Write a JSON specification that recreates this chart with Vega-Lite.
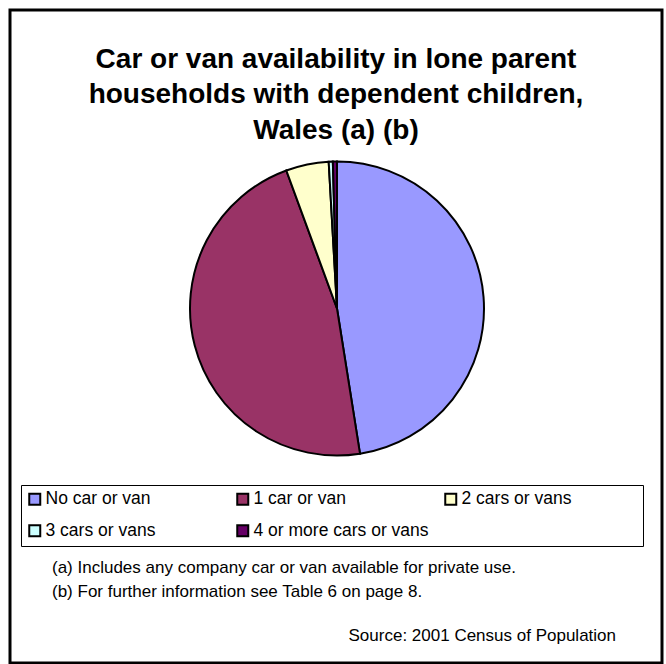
{
  "$schema": "https://vega.github.io/schema/vega-lite/v6.json",
  "width": 652,
  "height": 653,
  "autosize": "none",
  "padding": {"left": 10, "top": 10, "right": 4, "bottom": 1},
  "background": "white",
  "config": {
    "view": {"stroke": "#000", "strokeWidth": 3},
    "font": "Liberation Sans"
  },
  "title": {
    "text": ["Car or van availability in lone parent", "households with dependent children,", "Wales (a) (b)"],
    "font": "Liberation Sans",
    "fontSize": 28,
    "fontWeight": "bold",
    "lineHeight": 35.5,
    "anchor": "middle",
    "color": "#000",
    "offset": -136
  },
  "layer": [
    {
      "data": {"values": [{"frame": "border"}]},
      "mark": {"type": "rect", "x": 0, "y": 0, "x2": {"expr": "width"}, "y2": {"expr": "height"}, "fill": null, "stroke": "#000", "strokeWidth": 3},
      "encoding": {}
    },
    {
      "data": {
        "values": [
          {"k": 1, "cat": "No car or van", "pct": 47.5},
          {"k": 2, "cat": "1 car or van", "pct": 46.9},
          {"k": 3, "cat": "2 cars or vans", "pct": 4.7},
          {"k": 4, "cat": "3 cars or vans", "pct": 0.45},
          {"k": 5, "cat": "4 or more cars or vans", "pct": 0.45}
        ]
      },
      "mark": {"type": "arc", "x": 327, "y": 298.5, "outerRadius": 147, "stroke": "#000", "strokeWidth": 2},
      "encoding": {
        "theta": {"field": "pct", "type": "quantitative", "stack": true},
        "order": {"field": "k", "type": "quantitative"},
        "color": {
          "field": "cat",
          "type": "nominal",
          "sort": null,
          "scale": {
            "domain": ["No car or van", "1 car or van", "2 cars or vans", "3 cars or vans", "4 or more cars or vans"],
            "range": ["#9999FF", "#993366", "#FFFFCC", "#CCFFFF", "#660066"]
          },
          "legend": {
            "title": " ",
            "titleOrient": "right",
            "titlePadding": 67,
            "titleFontSize": 10,
            "orient": "none",
            "legendX": 11,
            "legendY": 475,
            "direction": "horizontal",
            "columns": 3,
            "gridAlign": "all",
            "columnPadding": 12,
            "rowPadding": 12,
            "padding": 5,
            "strokeColor": "#000",
            "fillColor": "#fff",
            "symbolType": "square",
            "symbolSize": 121,
            "symbolStrokeColor": "#000",
            "symbolStrokeWidth": 2,
            "symbolOpacity": 1,
            "labelFont": "Liberation Sans",
            "labelFontSize": 17.5,
            "labelColor": "#000",
            "labelOffset": 2,
            "labelLimit": 400
          }
        }
      }
    },
    {
      "data": {"values": [{"note": "(a) Includes any company car or van available for private use."}]},
      "mark": {"type": "text", "x": 42, "y": 558, "align": "left", "baseline": "middle", "fontSize": 17, "font": "Liberation Sans", "color": "#000"},
      "encoding": {"text": {"field": "note"}}
    },
    {
      "data": {"values": [{"note": "(b) For further information see Table 6 on page 8."}]},
      "mark": {"type": "text", "x": 42, "y": 582, "align": "left", "baseline": "middle", "fontSize": 17, "font": "Liberation Sans", "color": "#000"},
      "encoding": {"text": {"field": "note"}}
    },
    {
      "data": {"values": [{"note": "Source: 2001 Census of Population"}]},
      "mark": {"type": "text", "x": 606, "y": 626, "align": "right", "baseline": "middle", "fontSize": 17, "font": "Liberation Sans", "color": "#000"},
      "encoding": {"text": {"field": "note"}}
    }
  ]
}
